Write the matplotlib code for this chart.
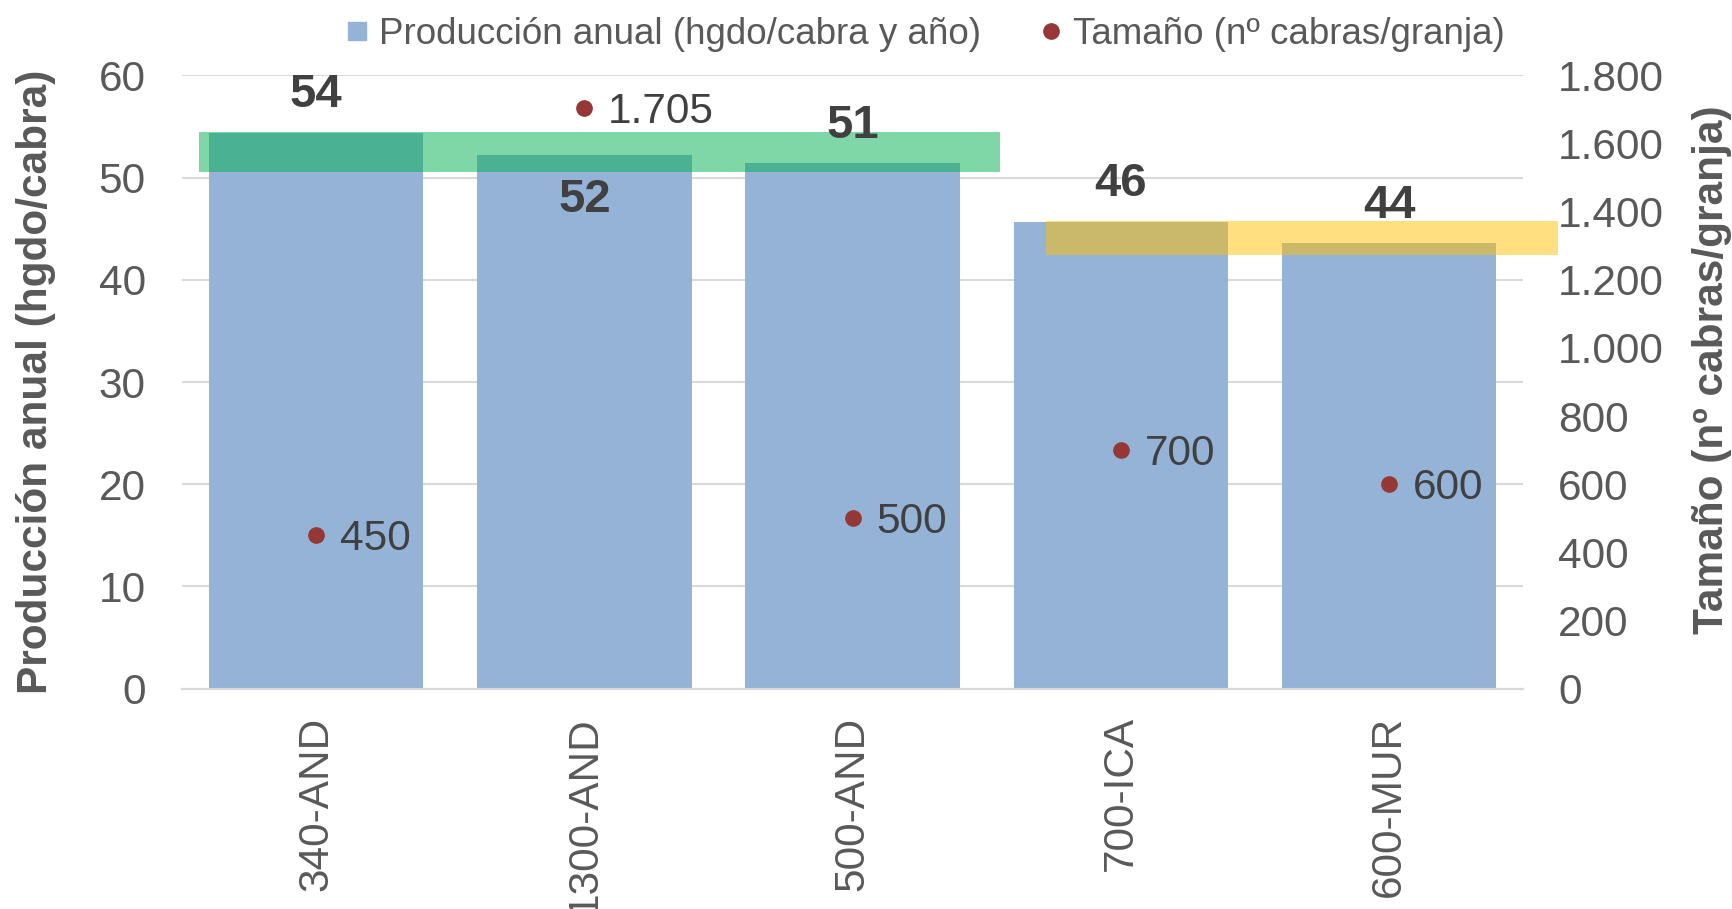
import matplotlib.pyplot as plt
from matplotlib.patches import Rectangle
from matplotlib.ticker import FuncFormatter, MultipleLocator

plt.rcParams["font.family"] = ["Liberation Sans", "DejaVu Sans"]

# data
farms = ["340-AND", "1300-AND", "500-AND", "700-ICA", "600-MUR"]
production = [54.4, 52.2, 51.4, 45.7, 43.6]      # hgdo/cabra y año
size = [450, 1705, 500, 700, 600]                # nº cabras/granja
label_below = [False, True, False, False, False]  # 52 sits inside its bar

# highlight bands: (x from, x to, y low, y high, colour) in data units
bands = [(-0.437, 2.55, 50.6, 54.5, "#00B050"),
         (2.72, 4.63, 42.4, 45.75, "#FFC000")]

BAR_C = "#95B3D7"
DOT_C = "#953735"
TXT_C = "#595959"
LBL_C = "#404040"
GRID_C = "#D9D9D9"
FS = 30.5


def thousands(v):
    return f"{v:,.0f}".replace(",", ".")


fig = plt.figure(figsize=(17.33, 9.09), dpi=100)
ax = fig.add_axes([0.105, 0.2425, 0.774, 0.6745])
ax2 = ax.twinx()

x = list(range(len(farms)))
ax.bar(x, production, width=0.8, color=BAR_C, zorder=2)
ax.set_xlim(-0.5, len(farms) - 0.5)
ax.set_ylim(0, 60)
ax.yaxis.set_major_locator(MultipleLocator(10))
ax.grid(axis="y", color=GRID_C, linewidth=1.5, zorder=0)
ax.set_axisbelow(True)

for i, v in enumerate(production):
    dy = -32 if label_below[i] else 27
    ax.annotate(f"{v:.0f}", (i, v), xytext=(0, dy), textcoords="offset points",
                ha="center", va="center", fontsize=34, fontweight="bold",
                color=LBL_C, zorder=5)

for xa, xb, y0, y1, c in bands:
    ax.add_patch(Rectangle((xa, y0), xb - xa, y1 - y0, facecolor=c, alpha=0.5,
                           lw=0, zorder=4, clip_on=False))

ax2.plot(x, size, "o", color=DOT_C, markersize=11, zorder=6)
ax2.set_ylim(0, 1800)
ax2.yaxis.set_major_locator(MultipleLocator(200))
ax2.yaxis.set_major_formatter(FuncFormatter(lambda v, p: thousands(v)))
for i, v in enumerate(size):
    ax2.annotate(thousands(v), (i, v), xytext=(17, -3), textcoords="offset points",
                 ha="left", va="center", fontsize=FS, color=LBL_C)

for a in (ax, ax2):
    for s in ("top", "left", "right"):
        a.spines[s].set_visible(False)
    a.spines["bottom"].set_color(GRID_C)
    a.spines["bottom"].set_linewidth(1.5)
    a.tick_params(length=0, labelsize=FS, colors=TXT_C)

ax.tick_params(axis="y", pad=26)
ax2.tick_params(axis="y", pad=25)
ax.set_xticks(x)
ax.set_xticklabels(farms, rotation=90, va="top")
ax.tick_params(axis="x", pad=20)

ax.set_ylabel("Producción anual (hgdo/cabra)", fontsize=FS, fontweight="bold", color=TXT_C)
ax.yaxis.set_label_coords(-0.094, 0.5)
ax2.set_ylabel("Tamaño (nº cabras/granja)", fontsize=FS, fontweight="bold", color=TXT_C,
               rotation=90)
ax2.yaxis.set_label_coords(1.126, 0.52)

h1 = plt.Line2D([], [], marker="s", ls="", color=BAR_C, markersize=13)
h2 = plt.Line2D([], [], marker="o", ls="", color=DOT_C, markersize=11)
fig.legend([h1, h2], ["Producción anual (hgdo/cabra y año)", "Tamaño (nº cabras/granja)"],
           loc="center", bbox_to_anchor=(0.534, 0.962), ncol=2, frameon=False,
           fontsize=26.5, handlelength=0.6, handletextpad=0.3, columnspacing=1.6,
           labelcolor=TXT_C)

fig.savefig("out.png", dpi=100)
